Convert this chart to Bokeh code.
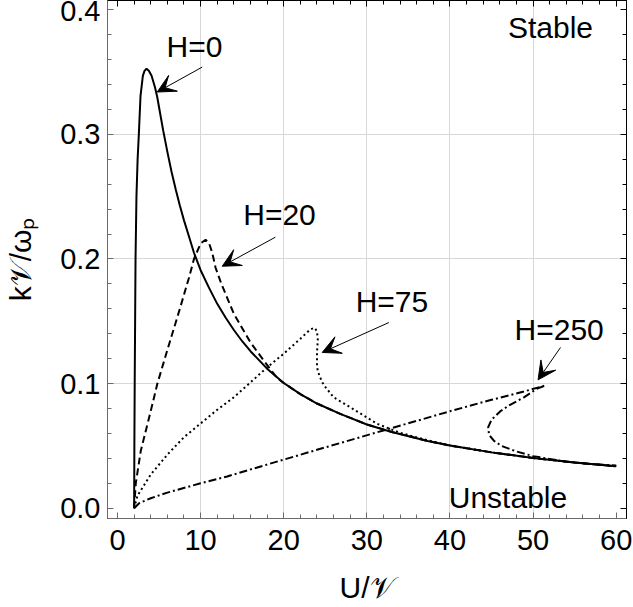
from bokeh.plotting import figure
from bokeh.models import (Range1d, LinearAxis, SingleIntervalTicker, FixedTicker, Label,
                          Arrow, VeeHead, NumeralTickFormatter, CustomJSTickFormatter)
from bokeh.embed import file_html
from bokeh.resources import INLINE

# ---- data ----
h0_u = [2.0, 2.03, 2.07, 2.12, 2.17, 2.28, 2.42, 2.56, 2.77, 3.05, 3.25, 3.49, 3.77, 4.1,
        4.5, 4.78, 5.1, 5.5, 6.0, 6.5, 7.0, 7.5, 8.0, 8.6, 9.2, 10.0, 11.0, 12.0, 13.0,
        14.0, 15.0, 16.0, 18.0, 20.0, 22.0, 24.0, 26.8, 30.0, 33.0, 37.3, 40.0, 45.0, 50.0,
        55.0, 60.0]
h0_k = [0.0, 0.05, 0.1, 0.15, 0.2, 0.25, 0.28, 0.299, 0.331, 0.347, 0.351, 0.3527, 0.351,
        0.347, 0.338, 0.330, 0.318, 0.303, 0.286, 0.270, 0.256, 0.243, 0.231, 0.218, 0.205,
        0.191, 0.177, 0.164, 0.153, 0.143, 0.134, 0.126, 0.112, 0.1005, 0.0915, 0.084,
        0.0757, 0.0672, 0.0612, 0.054, 0.0503, 0.0448, 0.0403, 0.0367, 0.0336]

h20_u = [2.0, 2.2, 2.8, 4.0, 4.8, 6.0, 7.5, 8.6, 9.2, 10.0, 10.6, 11.0, 11.4, 11.8, 12.5,
         14.0, 16.0, 17.6, 19.2, 20.0, 22.0, 24.0, 26.8, 30.0, 33.0, 37.3, 40.0, 45.0, 50.0,
         55.0, 60.0]
h20_k = [0.0, 0.02, 0.046, 0.078, 0.100, 0.127, 0.160, 0.185, 0.200, 0.2125, 0.2154, 0.213,
         0.205, 0.193, 0.180, 0.156, 0.133, 0.1185, 0.1045, 0.1005, 0.0915, 0.084, 0.0757,
         0.0672, 0.0612, 0.054, 0.0503, 0.0448, 0.0403, 0.0367, 0.0336]

h75_u = [2.0, 2.4, 4.0, 6.0, 8.0, 10.0, 12.0, 14.0, 16.0, 18.0, 20.0, 22.0, 23.2, 23.7,
         24.0, 24.1, 24.0, 24.0, 24.3, 24.8, 26.0, 28.0, 31.25, 34.0, 37.3, 40.0, 45.0,
         50.0, 55.0, 60.0]
h75_k = [0.0, 0.01, 0.027, 0.043, 0.057, 0.068, 0.079, 0.089, 0.101, 0.113, 0.124, 0.136,
         0.1435, 0.1448, 0.142, 0.135, 0.125, 0.113, 0.106, 0.099, 0.089, 0.081, 0.0677,
         0.0605, 0.0545, 0.0504, 0.0448, 0.0403, 0.0367, 0.0336]

h250_u = [2.0, 2.6, 4.0, 6.0, 10.0, 13.2, 20.0, 25.0, 32.0, 40.0, 45.0, 48.9, 51.5, 50.5,
          48.9, 47.0, 46.1, 45.0, 44.6, 44.7, 45.3, 46.2, 48.0, 50.0, 54.0, 57.0, 60.0]
h250_k = [0.0, 0.004, 0.008, 0.0125, 0.020, 0.0255, 0.039, 0.0488, 0.0624, 0.0778, 0.087,
          0.0937, 0.0985, 0.096, 0.089, 0.082, 0.078, 0.071, 0.065, 0.059, 0.054, 0.050,
          0.0455, 0.0418, 0.0372, 0.0354, 0.0343]

x_grid = [10, 20, 30, 40, 50]
y_grid = [0.1, 0.2, 0.3]

FONT = "Liberation Sans"
AX = "#6b6b6b"

p = figure(width=633, height=607, output_backend="svg", toolbar_location=None,
           x_range=Range1d(-1.203, 61.24), y_range=Range1d(-0.00827, 0.40746),
           min_border_left=107, min_border_right=7, min_border_top=0, min_border_bottom=89,
           x_axis_label="U/\U0001D4B1", y_axis_label="k\U0001D4B1/\u03c9\u209a")
p.background_fill_color = "white"
p.border_fill_color = "white"
p.outline_line_color = "black"
p.outline_line_width = 1

# grid
p.xgrid.ticker = FixedTicker(ticks=x_grid)
p.ygrid.ticker = FixedTicker(ticks=y_grid)
for g in (p.xgrid, p.ygrid):
    g.grid_line_color = "#d8d8d8"
    g.grid_line_width = 1

def style_axis(ax):
    ax.axis_line_color = AX
    ax.major_tick_line_color = AX
    ax.minor_tick_line_color = AX
    ax.major_tick_in = 6
    ax.major_tick_out = 0
    ax.minor_tick_in = 4
    ax.minor_tick_out = 0
    ax.major_label_text_font = FONT
    ax.major_label_text_font_size = "29px"
    ax.major_label_text_color = "black"
    ax.axis_label_text_font = FONT
    ax.axis_label_text_font_size = "30px"
    ax.axis_label_text_font_style = "normal"
    ax.axis_label_text_color = "black"

p.xaxis.ticker = SingleIntervalTicker(interval=10, num_minor_ticks=5)
p.yaxis.ticker = SingleIntervalTicker(interval=0.1, num_minor_ticks=5)
p.yaxis.formatter = NumeralTickFormatter(format="0.0")
style_axis(p.xaxis[0])
style_axis(p.yaxis[0])
p.xaxis.major_label_standoff = 11
p.xaxis.axis_label_standoff = 18
p.yaxis.major_label_standoff = 7
p.yaxis.axis_label_standoff = 20

# top and right frame ticks (no labels)
top = LinearAxis(ticker=SingleIntervalTicker(interval=10, num_minor_ticks=5))
right = LinearAxis(ticker=SingleIntervalTicker(interval=0.1, num_minor_ticks=5))
for ax in (top, right):
    style_axis(ax)
    ax.axis_line_color = "black"
    ax.major_tick_line_color = "black"
    ax.minor_tick_line_color = "black"
    ax.formatter = CustomJSTickFormatter(code="return ''")
    ax.major_label_standoff = 0
    ax.axis_label = None
p.add_layout(top, "above")
p.add_layout(right, "right")

# curves
p.line(h0_u, h0_k, line_color="black", line_width=2)
p.line(h20_u, h20_k, line_color="black", line_width=2, line_dash="7 4")
p.line(h75_u, h75_k, line_color="black", line_width=2, line_dash="2 3")
p.line(h250_u, h250_k, line_color="black", line_width=2, line_dash="8 3 2 3")

# annotations
def lab(x, y, t):
    p.add_layout(Label(x=x, y=y, text=t, text_align="center", text_baseline="middle",
                       text_font=FONT, text_font_size="30px", text_color="black"))

lab(9.26, 0.3706, "H=0")
lab(19.49, 0.2357, "H=20")
lab(33.02, 0.1659, "H=75")
lab(53.14, 0.1434, "H=250")
lab(52.09, 0.3858, "Stable")
lab(46.98, 0.0082, "Unstable")

def arr(x0, y0, x1, y1):
    p.add_layout(Arrow(x_start=x0, y_start=y0, x_end=x1, y_end=y1, line_width=1,
                       line_color="black",
                       end=VeeHead(size=18, fill_color="black", line_color="black")))

arr(10.19, 0.354, 4.78, 0.334)
arr(18.99, 0.2175, 12.6, 0.1942)
arr(32.65, 0.149, 24.63, 0.125)
arr(53.3, 0.129, 50.6, 0.103)

open("out.html", "w").write(file_html(p, INLINE))
